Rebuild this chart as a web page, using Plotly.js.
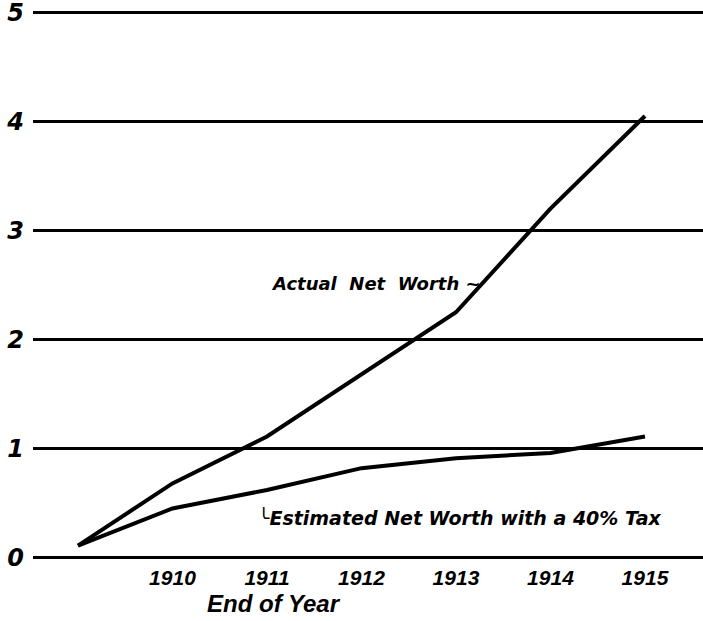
<!DOCTYPE html>
<html><head><meta charset="utf-8">
<script src="https://cdn.plot.ly/plotly-3.0.1.min.js"></script>
<style>html,body{margin:0;padding:0;background:#fff}#chart{width:703px;height:621px}</style>
</head><body><div id="chart"></div>
<script>
// Data (millions)
const years = [1909, 1910, 1911, 1912, 1913, 1914, 1915];
const actualNetWorth = [0.11, 0.68, 1.11, 1.68, 2.25, 3.2, 4.05];
const estimatedNetWorthTax = [0.11, 0.45, 0.62, 0.82, 0.91, 0.96, 1.11];
const xTickVals = [1910, 1911, 1912, 1913, 1914, 1915];
const xTickText = ['1910', '1911', '1912', '1913', '1914', '1915'];
const yTickVals = [0, 1, 2, 3, 4, 5];
const yTickText = ['0', '1', '2', '3', '4', '5'];

const narrow = 'Liberation Sans, Arial, sans-serif';
const wide = 'DejaVu Sans, sans-serif';

const traces = [
  {x: years, y: actualNetWorth, type: 'scatter', mode: 'lines', line: {color: '#000', width: 4}, hoverinfo: 'skip'},
  {x: years, y: estimatedNetWorthTax, type: 'scatter', mode: 'lines', line: {color: '#000', width: 4}, hoverinfo: 'skip'}
];

const layout = {
  width: 703, height: 621,
  margin: {l: 33, r: 0, t: 7, b: 58},
  paper_bgcolor: '#fff', plot_bgcolor: '#fff',
  showlegend: false,
  xaxis: {
    range: [1908.524, 1915.614],
    showgrid: false, zeroline: false, showline: false,
    tickvals: xTickVals, ticktext: xTickText, ticks: '',
    tickfont: {family: narrow, size: 21, color: '#000', weight: 'bold', style: 'italic'}
  },
  yaxis: {
    range: [-0.05, 5.05],
    showgrid: true, gridcolor: '#000', gridwidth: 2.5,
    zeroline: false, showline: false,
    tickvals: yTickVals, ticktext: yTickText, ticks: '',
    ticklabelstandoff: 8, ticklabeloverflow: 'allow',
    tickfont: {family: wide, size: 24, color: '#000', weight: 'bold', style: 'italic'}
  },
  annotations: [
    {x: 1911.02, y: 2.51, xref: 'x', yref: 'y', xanchor: 'left', yanchor: 'middle', showarrow: false,
     text: 'Actual  Net  Worth ~', font: {family: wide, size: 18, color: '#000', weight: 'bold', style: 'italic'}},
    {x: 1910.88, y: 0.37, xref: 'x', yref: 'y', xanchor: 'left', yanchor: 'middle', showarrow: false,
     text: '╰Estimated Net Worth with a 40% Tax', font: {family: wide, size: 19, color: '#000', weight: 'bold', style: 'italic'}},
    {x: 0.36, y: 0, xref: 'paper', yref: 'paper', yshift: -25, xanchor: 'center', yanchor: 'top', showarrow: false,
     text: 'End of Year', font: {family: narrow, size: 24, color: '#000', weight: 'bold', style: 'italic'}}
  ]
};

Plotly.newPlot('chart', traces, layout, {staticPlot: true, displayModeBar: false});
</script></body></html>
